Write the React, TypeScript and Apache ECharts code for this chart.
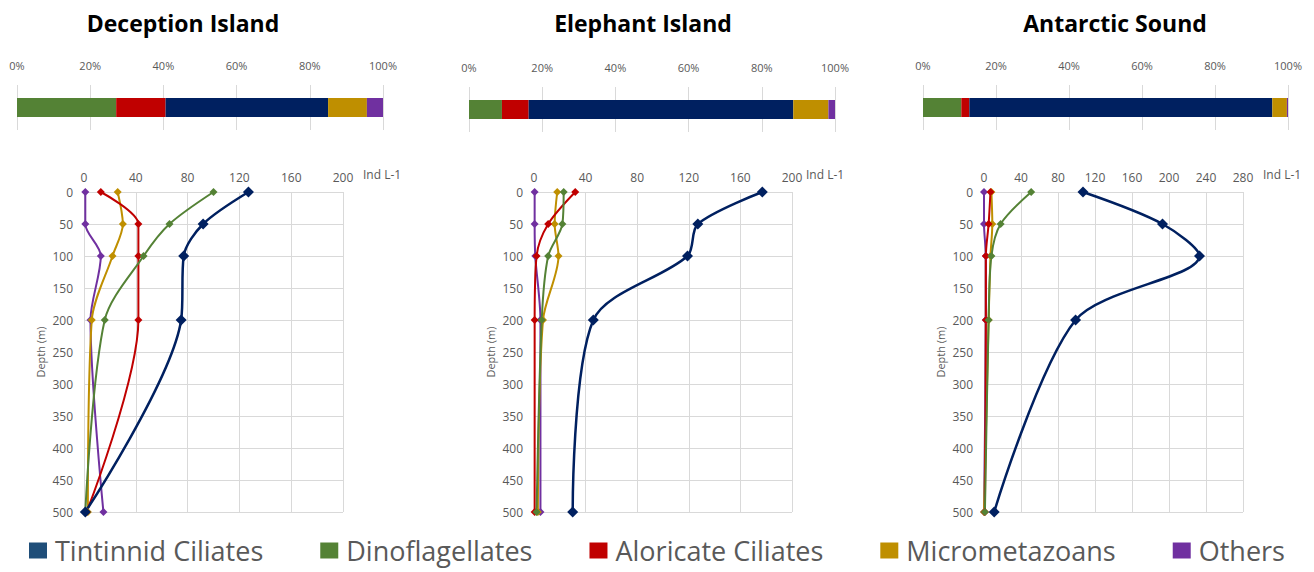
import React, { useEffect, useRef } from "react";
import * as echarts from "echarts";

// ---------- data ----------
const seriesNames = ["Tintinnid Ciliates", "Dinoflagellates", "Aloricate Ciliates", "Micrometazoans", "Others"];
const stackOrder = ["Dinoflagellates", "Aloricate Ciliates", "Tintinnid Ciliates", "Micrometazoans", "Others"];
const lineColors: Record<string, string> = {
  "Tintinnid Ciliates": "#002060",
  "Dinoflagellates": "#548235",
  "Aloricate Ciliates": "#C00000",
  "Micrometazoans": "#BF8F00",
  "Others": "#7030A0",
};
const stations = ["Deception Island", "Elephant Island", "Antarctic Sound"];
const depths = [0, 50, 100, 200, 500];

// composition (%), legend order: Tintinnid, Dino, Aloricate, Micro, Others
const deceptionShare = [44.4, 27.1, 13.5, 10.6, 4.4];
const elephantShare = [72.3, 9.0, 7.3, 9.6, 1.8];
const antarcticShare = [83.0, 10.5, 2.2, 4.0, 0.3];

// abundance (Ind L-1) at depths 0, 50, 100, 200, 500 m
const deceptionTintinnid = [127, 92, 77, 75, 1];
const deceptionDino = [100, 66, 46, 16, 1];
const deceptionAloricate = [13, 42, 42, 42, 2];
const deceptionMicro = [26, 30, 22, 6, 3];
const deceptionOthers = [1, 1, 13, 5, 15];

const elephantTintinnid = [177, 127, 119, 46, 30];
const elephantDino = [23, 22, 11, 6, 2];
const elephantAloricate = [32, 11, 2, 0.5, 0.5];
const elephantMicro = [18, 16, 19, 7, 3];
const elephantOthers = [0.5, 0.5, 1, 5, 5];

const antarcticTintinnid = [107, 193, 233, 99, 11];
const antarcticDino = [51, 18, 8, 5, 1];
const antarcticAloricate = [7, 5, 2, 2, 1];
const antarcticMicro = [8, 9, 7, 5, 0];
const antarcticOthers = [0, 0, 2, 2, 0];

const xMax = [200, 200, 280];
const xInterval = 40;
const depthMax = 500;
const depthInterval = 50;

const shares = [deceptionShare, elephantShare, antarcticShare];
const profiles = [
  [deceptionTintinnid, deceptionDino, deceptionAloricate, deceptionMicro, deceptionOthers],
  [elephantTintinnid, elephantDino, elephantAloricate, elephantMicro, elephantOthers],
  [antarcticTintinnid, antarcticDino, antarcticAloricate, antarcticMicro, antarcticOthers],
];

// ---------- layout ----------
const barGrids = [
  { left: 17, top: 85, width: 366, height: 45 },
  { left: 469, top: 87, width: 366, height: 45 },
  { left: 923, top: 85, width: 365, height: 45 },
];
const lineGrids = [
  { left: 84, top: 192, width: 259, height: 320 },
  { left: 534, top: 192, width: 258, height: 320 },
  { left: 984, top: 192, width: 259, height: 320 },
];
const titleX = [178, 638, 1110];
const unitX = [363, 806, 1263];

const FONT = "'Open Sans', 'Liberation Sans', sans-serif";
const GRAY = "#595959";
const GRID = "#d9d9d9";

export default function App() {
  const ref = useRef<HTMLDivElement>(null);
  useEffect(() => {
    if (!ref.current) return;
    const chart = echarts.init(ref.current, null, { renderer: "svg" });

    const grid: any[] = [];
    const xAxis: any[] = [];
    const yAxis: any[] = [];
    const series: any[] = [];

    // bar grids (index 0..2)
    barGrids.forEach((g, i) => {
      grid.push({ ...g, containLabel: false });
      xAxis.push({
        gridIndex: i,
        type: "value",
        position: "top",
        min: 0,
        max: 100,
        interval: 20,
        axisLine: { show: false },
        axisTick: { show: false },
        axisLabel: { formatter: "{value}%", color: GRAY, fontSize: 11, fontFamily: FONT, margin: 14 },
        splitLine: { lineStyle: { color: GRID } },
      });
      yAxis.push({
        gridIndex: i,
        type: "category",
        data: [stations[i]],
        show: false,
      });
      stackOrder.forEach((name) => {
        const idx = seriesNames.indexOf(name);
        series.push({
          type: "bar",
          name,
          stack: "s" + i,
          xAxisIndex: i,
          yAxisIndex: i,
          barWidth: 19,
          itemStyle: { color: lineColors[name] },
          data: [shares[i][idx]],
        });
      });
    });

    // line grids (index 3..5)
    lineGrids.forEach((g, i) => {
      const gi = i + 3;
      grid.push({ ...g, containLabel: false });
      xAxis.push({
        gridIndex: gi,
        type: "value",
        position: "top",
        min: 0,
        max: xMax[i],
        interval: xInterval,
        axisLine: { show: false },
        axisTick: { show: false },
        axisLabel: { color: GRAY, fontSize: 12, fontFamily: FONT, margin: 9 },
        splitLine: { lineStyle: { color: GRID } },
      });
      yAxis.push({
        gridIndex: gi,
        type: "value",
        inverse: true,
        min: 0,
        max: depthMax,
        interval: depthInterval,
        name: "Depth (m)",
        nameLocation: "middle",
        nameGap: 38,
        nameTextStyle: { color: GRAY, fontSize: 11, fontFamily: FONT },
        axisLine: { show: false },
        axisTick: { show: false },
        axisLabel: { color: GRAY, fontSize: 12, fontFamily: FONT, margin: 11 },
        splitLine: { lineStyle: { color: GRID } },
      });
      const order = [4, 3, 2, 1, 0];
      order.forEach((k) => {
        const name = seriesNames[k];
        const isMain = k === 0;
        series.push({
          type: "line",
          name,
          xAxisIndex: gi,
          yAxisIndex: gi,
          smooth: 0.3,
          symbol: "diamond",
          symbolSize: isMain ? 11 : 8,
          lineStyle: { color: lineColors[name], width: isMain ? 2.5 : 2 },
          itemStyle: { color: lineColors[name] },
          data: profiles[i][k].map((v, j) => [v, depths[j]]),
        });
      });
    });

    const graphic: any[] = unitX.map((x) => ({
      type: "text",
      left: x,
      top: 168,
      style: { text: "Ind L-1", fill: GRAY, font: `12px ${FONT}` },
    }));

    chart.setOption({
      animation: false,
      backgroundColor: "#ffffff",
      textStyle: { fontFamily: FONT },
      title: stations.map((s, i) => ({
        text: s,
        left: titleX[i],
        top: 6,
        textAlign: "center",
        textStyle: { fontSize: 23, fontWeight: "bold", color: "#000", fontFamily: FONT },
      })),
      legend: {
        left: 29,
        top: 537,
        padding: 0,
        itemWidth: 18,
        itemHeight: 16,
        itemGap: 57,
        icon: "rect",
        textStyle: { fontSize: 27, lineHeight: 27, color: GRAY, fontFamily: FONT, padding: [0, 0, 0, 3] },
        data: [
          { name: "Tintinnid Ciliates", itemStyle: { color: "#1F4E79" } },
          { name: "Dinoflagellates" },
          { name: "Aloricate Ciliates" },
          { name: "Micrometazoans" },
          { name: "Others" },
        ],
        selectedMode: false,
      },
      grid,
      xAxis,
      yAxis,
      series,
      graphic,
    });
    return () => chart.dispose();
  }, []);
  return (
    <div
      ref={ref}
      style={{ position: "fixed", left: 0, top: 0, width: 1314, height: 572 }}
    />
  );
}
